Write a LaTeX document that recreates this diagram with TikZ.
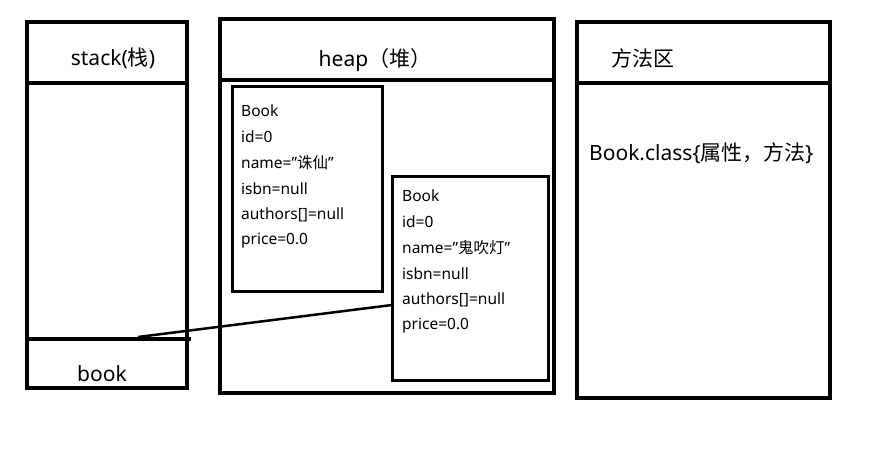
\documentclass[tikz,border=0pt]{standalone}
\usepackage{fontspec}
\setmainfont{Noto Sans}
\newfontfamily\cjk{Noto Sans CJK SC}
\begin{document}
\begin{tikzpicture}[x=1pt,y=-1pt,
  outer/.style={draw=black,line width=4pt,fill=none},
  inner/.style={draw=black,line width=3pt},
  title/.style={font=\fontsize{21}{23}\selectfont,inner sep=0pt},
  field/.style={font=\fontsize{15.5}{17}\selectfont,anchor=west,inner sep=0pt},
  link/.style={draw=black,line width=2.5pt}]
\useasboundingbox[fill=white] (0,0) rectangle (874,454);
% stack
\draw[outer] (27,22) rectangle (187,388);
\draw[outer] (25,83) -- (187,83);
\draw[outer] (27,339) -- (191,339);
\node[title] (stack) at (113,58) {stack({\cjk 栈})};
\node[title] (book) at (102,374) {book};
% heap
\draw[outer] (220,19) rectangle (554,393);
\draw[outer] (220,80) -- (554,80);
\node[title] (heap) at (375,60) {heap{\cjk （堆）}};
\node[inner,minimum width=150pt,minimum height=204pt] (b1) at (307,189) {};
\node[inner,minimum width=156pt,minimum height=203pt] (b2) at (470,278.5) {};
\node[field] (b1a) at (241,111) {Book};
\node[field] (b1b) at (241,137) {id=0};
\node[field] (b1c) at (241,163) {name=\char"0022{\cjk 诛仙}\char"0022};
\node[field] (b1d) at (241,189) {isbn=null};
\node[field] (b1e) at (241,215) {authors[]=null};
\node[field] (b1f) at (241,241) {price=0.0};
\node[field] (b2a) at (402,196) {Book};
\node[field] (b2b) at (402,222) {id=0};
\node[field] (b2c) at (402,248) {name=\char"0022{\cjk 鬼吹灯}\char"0022};
\node[field] (b2d) at (402,274) {isbn=null};
\node[field] (b2e) at (402,300) {authors[]=null};
\node[field] (b2f) at (402,326) {price=0.0};
% method area
\draw[outer] (577,22) rectangle (830,398);
\draw[outer] (577,83) -- (830,83);
\node[title,anchor=west] (ma) at (611,58) {\cjk 方法区};
\node[inner sep=0pt,anchor=west,font=\fontsize{21}{23}\selectfont] (cls) at (589,153) {Book.class\{{\cjk 属性，方法}\}};
% pointer
\coordinate (ptr) at (138,337);
\coordinate (tip) at (392,305);
\draw[link] (ptr) -- (tip);
\end{tikzpicture}
\end{document}
